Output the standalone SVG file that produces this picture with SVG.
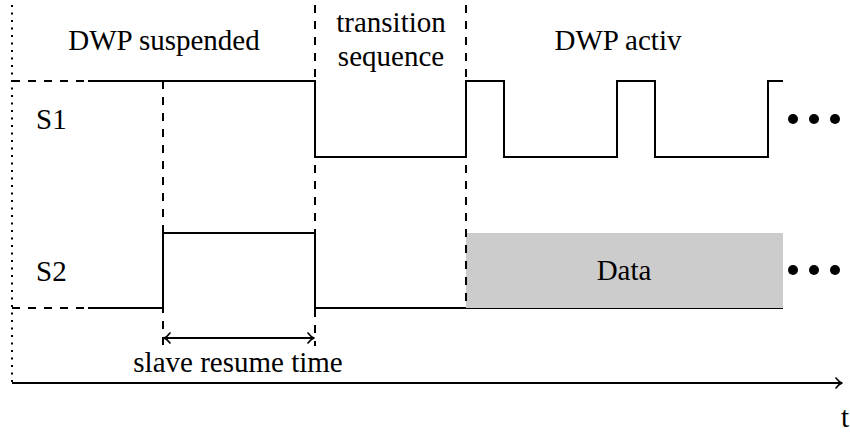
<svg xmlns="http://www.w3.org/2000/svg" width="850" height="432" viewBox="0 0 850 432">
  <style>
    .lbl { font-family: 'Liberation Serif', 'Times New Roman', 'DejaVu Serif', serif; font-size: 29px; fill: #000; }
    .c { text-anchor: middle; }
    .sig { fill: none; stroke: #000; stroke-width: 2; stroke-linejoin: miter; }
    .dash { fill: none; stroke: #000; stroke-width: 2; stroke-dasharray: 8 8; }
    .dot { fill: none; stroke: #000; stroke-width: 2; stroke-dasharray: 2 5.5; }
    .arrow { fill: none; stroke: #000; stroke-width: 2; }
    .head { fill: none; stroke: #000; stroke-width: 1.6; stroke-linecap: round; stroke-linejoin: round; }
  </style>
  <defs>
    <marker id="open" viewBox="-8 -6 10 12" markerWidth="10" markerHeight="12" refX="0" refY="0" orient="auto-start-reverse" markerUnits="userSpaceOnUse">
      <path class="head" d="M-6,-5 Q-3,-1 0,0 Q-3,1 -6,5"/>
    </marker>
  </defs>

  <rect width="850" height="432" fill="#fff"/>

  <!-- phase labels -->
  <g id="phase-suspended">
    <text class="lbl c" x="164" y="50">DWP suspended</text>
  </g>
  <g id="phase-transition">
    <text class="lbl c" x="391" y="32">transition</text>
    <text class="lbl c" x="391" y="66">sequence</text>
  </g>
  <g id="phase-active">
    <text class="lbl c" x="618" y="50">DWP activ</text>
  </g>

  <!-- S1 line -->
  <g id="s1">
    <text class="lbl" x="36" y="129">S1</text>
    <path class="dash" d="M12,81 H88"/>
    <path class="sig" d="M88,81 H315 V157 H466 V81 H504 V157 H617 V81 H655 V157 H768 V81 H783"/>
    <circle cx="793" cy="119" r="5"/>
    <circle cx="814" cy="119" r="5"/>
    <circle cx="835" cy="119" r="5"/>
  </g>

  <!-- S2 line -->
  <g id="s2">
    <text class="lbl" x="36" y="281">S2</text>
    <path class="dash" d="M12,308 H88"/>
    <path class="sig" d="M88,308 H163 V233 H315 V308 H783"/>
    <circle cx="793" cy="270" r="5"/>
    <circle cx="814" cy="270" r="5"/>
    <circle cx="835" cy="270" r="5"/>
  </g>

  <!-- data phase on S2 -->
  <g id="data">
    <rect x="466" y="233" width="317" height="75" fill="#cccccc"/>
    <text class="lbl c" x="624" y="280">Data</text>
  </g>

  <!-- phase boundaries, time axis and resume time -->
  <g id="connectors">
    <path class="dot" d="M12,5 V383"/>
    <path class="dash" d="M163,81 V346"/>
    <path class="dash" d="M315,5 V346"/>
    <path class="dash" d="M466,5 V308"/>
    <path class="arrow" d="M12,383 H842" marker-end="url(#open)"/>
    <path class="arrow" d="M164,338 H314" marker-start="url(#open)" marker-end="url(#open)"/>
  </g>

  <g id="resume-label">
    <text class="lbl c" x="238" y="372">slave resume time</text>
  </g>
  <g id="axis-label">
    <text class="lbl c" x="845" y="427">t</text>
  </g>
</svg>
